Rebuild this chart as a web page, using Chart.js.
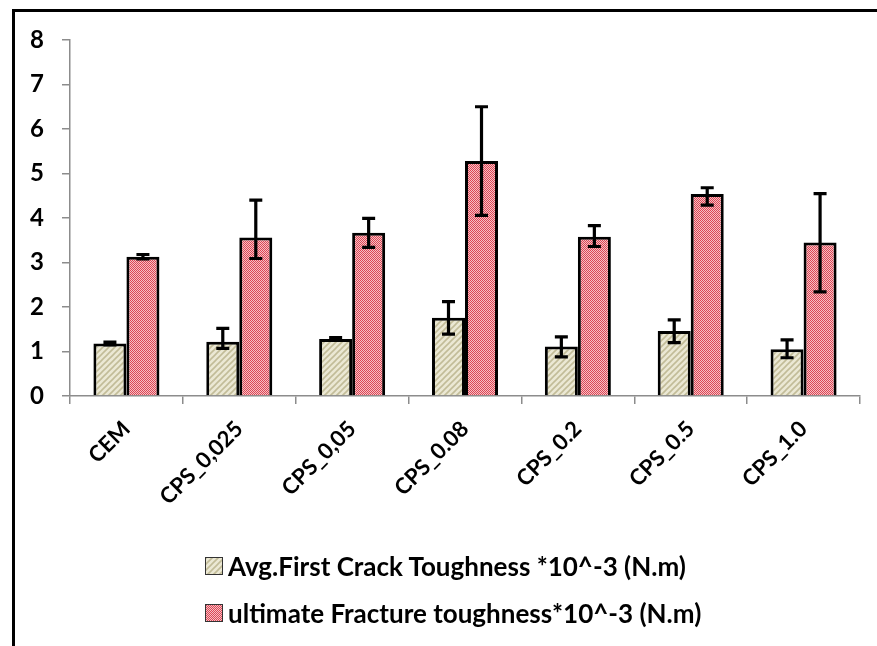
<!DOCTYPE html>
<html>
<head>
<meta charset="utf-8">
<script src="https://cdn.jsdelivr.net/npm/chart.js"></script>
<style>
  html, body { margin: 0; padding: 0; background: #fff; }
  body { width: 877px; height: 646px; overflow: hidden; position: relative; }
  #frame { position: absolute; left: 12px; top: 9px; width: 2000px; height: 2000px; border: 3px solid #000; }
  #myBarChart { position: absolute; left: 0; top: 0; }
  #legend { position: absolute; left: 205px; top: 550px; font-family: Lato, sans-serif; font-weight: bold; font-size: 26px; color: #000; }
  #legend .row { display: flex; align-items: center; height: 31px; margin-bottom: 16px; white-space: nowrap; }
  #legend .box { width: 16px; height: 16px; border: 1px solid #333; margin-right: 5px; }
</style>
</head>
<body>
<div id="frame"></div>
<canvas id="myBarChart" width="877" height="646"></canvas>
<div id="legend"></div>
<script>
const categories = ['CEM', 'CPS_0,025', 'CPS_0,05', 'CPS_0.08', 'CPS_0.2', 'CPS_0.5', 'CPS_1.0'];

const firstCrack = [1.18, 1.22, 1.28, 1.76, 1.11, 1.46, 1.05];
const firstCrackErrPlus = [0.03, 0.30, 0.03, 0.36, 0.22, 0.25, 0.21];
const firstCrackErrMinus = [0.03, 0.15, 0.03, 0.37, 0.23, 0.26, 0.19];

const ultimate = [3.13, 3.56, 3.67, 5.28, 3.58, 4.54, 3.45];
const ultimateErrPlus = [0.05, 0.84, 0.32, 1.22, 0.25, 0.14, 1.10];
const ultimateErrMinus = [0.05, 0.47, 0.33, 1.22, 0.22, 0.25, 1.11];

const yTicks = [0, 1, 2, 3, 4, 5, 6, 7, 8];

// little tiles for the hatched / checkered fills
function makeTile(kind) {
    const c = document.createElement('canvas');
    const g = c.getContext('2d');
    if (kind === 'hatch') {
        c.width = 6; c.height = 6;
        g.fillStyle = '#ebe8d4';
        g.fillRect(0, 0, 6, 6);
        g.strokeStyle = '#c2bc98';
        g.lineWidth = 1.6;
        g.beginPath();
        g.moveTo(-1, 7); g.lineTo(7, -1);
        g.moveTo(-4, 4); g.lineTo(4, -4);
        g.moveTo(2, 10); g.lineTo(10, 2);
        g.stroke();
    } else {
        c.width = 2; c.height = 2;
        g.fillStyle = '#f6c0c4';
        g.fillRect(0, 0, 2, 2);
        g.fillStyle = '#dc4655';
        g.fillRect(0, 0, 1, 1);
        g.fillRect(1, 1, 1, 1);
    }
    return c;
}

const ctx = document.getElementById('myBarChart').getContext('2d');
const hatchTile = makeTile('hatch');
const checkTile = makeTile('check');

const errorBars = {
    id: 'errorBars',
    afterDatasetsDraw(chart) {
        const c = chart.ctx;
        const y = chart.scales.y;
        chart.data.datasets.forEach((ds, i) => {
            const meta = chart.getDatasetMeta(i);
            meta.data.forEach((bar, j) => {
                const v = ds.data[j];
                const top = y.getPixelForValue(v + ds.errPlus[j]);
                const bot = y.getPixelForValue(v - ds.errMinus[j]);
                c.save();
                c.strokeStyle = '#000';
                c.lineWidth = 3.2;
                c.beginPath();
                c.moveTo(bar.x, top); c.lineTo(bar.x, bot);
                c.moveTo(bar.x - 6.5, top); c.lineTo(bar.x + 6.5, top);
                c.moveTo(bar.x - 6.5, bot); c.lineTo(bar.x + 6.5, bot);
                c.stroke();
                c.restore();
            });
        });
    }
};

const data = {
    labels: categories,
    datasets: [
        {
            label: 'Avg.First Crack Toughness *10^-3 (N.m)',
            data: firstCrack,
            errPlus: firstCrackErrPlus,
            errMinus: firstCrackErrMinus,
            backgroundColor: ctx.createPattern(hatchTile, 'repeat'),
            borderColor: '#000',
            borderWidth: 3,
            borderSkipped: 'bottom'
        },
        {
            label: 'ultimate Fracture toughness*10^-3 (N.m)',
            data: ultimate,
            errPlus: ultimateErrPlus,
            errMinus: ultimateErrMinus,
            backgroundColor: ctx.createPattern(checkTile, 'repeat'),
            borderColor: '#000',
            borderWidth: 3,
            borderSkipped: 'bottom'
        }
    ]
};

const config = {
    type: 'bar',
    data: data,
    plugins: [errorBars],
    options: {
        responsive: false,
        animation: false,
        layout: { padding: { top: 40, right: 17, left: 0, bottom: 0 } },
        datasets: {
            bar: { categoryPercentage: 0.585, barPercentage: 1.0 }
        },
        plugins: {
            legend: { display: false },
            tooltip: { enabled: false }
        },
        scales: {
            x: {
                grid: { display: true, drawOnChartArea: false, offset: true, tickLength: 8, color: '#8c8c8c', lineWidth: 1.5 },
                border: { color: '#8c8c8c', width: 1.5 },
                ticks: {
                    color: '#000',
                    font: { family: 'Lato', weight: 'bold', size: 22 },
                    minRotation: 45,
                    maxRotation: 45,
                    padding: 12
                },
                afterFit: (scale) => { scale.height = 250; }
            },
            y: {
                min: 0,
                max: 8,
                grid: { display: true, drawOnChartArea: false, tickLength: 8, color: '#8c8c8c', lineWidth: 1.5 },
                border: { color: '#8c8c8c', width: 1.5 },
                afterBuildTicks: (scale) => { scale.ticks = yTicks.map(v => ({ value: v })); },
                ticks: {
                    color: '#000',
                    font: { family: 'Lato', weight: 'bold', size: 24 },
                    padding: 18
                },
                afterFit: (scale) => { scale.width = 70; }
            }
        }
    }
};

const myBarChart = new Chart(ctx, config);

// legend below the plot, left aligned like the original
const legendEl = document.getElementById('legend');
[hatchTile, checkTile].forEach((tile, i) => {
    const row = document.createElement('div');
    row.className = 'row';
    const box = document.createElement('span');
    box.className = 'box';
    box.style.backgroundImage = 'url(' + tile.toDataURL() + ')';
    const txt = document.createElement('span');
    txt.textContent = data.datasets[i].label;
    row.appendChild(box);
    row.appendChild(txt);
    legendEl.appendChild(row);
});
</script>
</body>
</html>
